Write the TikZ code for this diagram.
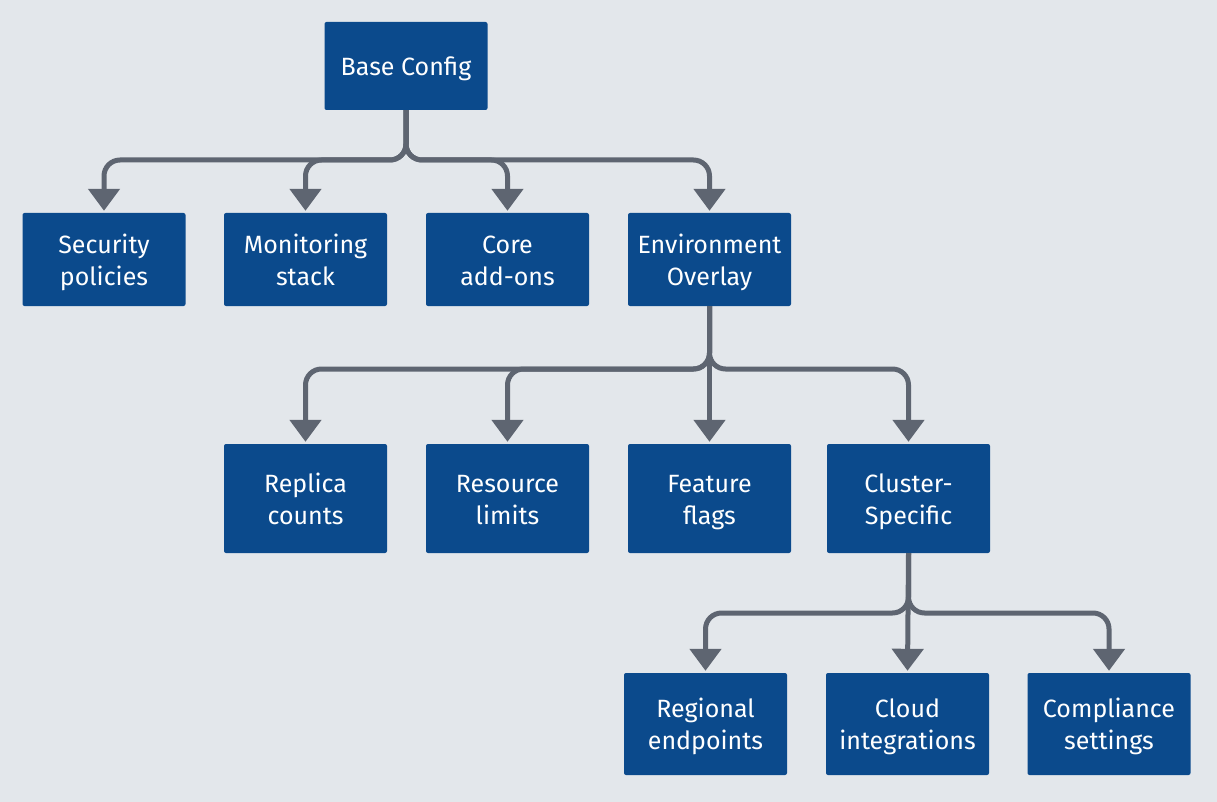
\documentclass[tikz,border=0pt]{standalone}
\usepackage{fontspec}
\setmainfont{Fira Sans}
\usetikzlibrary{arrows.meta}
\definecolor{bg}{HTML}{E3E7EB}
\definecolor{boxblue}{HTML}{0B4A8C}
\definecolor{conn}{HTML}{5E6571}
\newcommand\ta{\rule[-3pt]{0pt}{29pt}}
\newcommand\tb{\rule[-7pt]{0pt}{14pt}}
\newcommand\tc{\rule[-7pt]{0pt}{33pt}}
\begin{document}
\begin{tikzpicture}[x=1pt,y=-1pt,
  box/.style={draw=none,fill=boxblue,rounded corners=2pt,text=white,minimum width=163pt,align=center,font=\fontsize{25}{32}\selectfont,inner sep=0pt},
  link/.style={draw=conn,line width=5pt,rounded corners=16pt,-{Triangle[width=31pt,length=22pt]},shorten >=2pt}]
\fill[bg] (0,0) rectangle (1217,802);
\useasboundingbox (0,0) rectangle (1217,802);
% nodes
\node[box,minimum height=88pt] (base) at (406,66) {Base Config\tc};
\node[box,minimum height=93pt] (sec) at (104,259.5) {Security\ta\\policies\tb};
\node[box,minimum height=93pt] (mon) at (305.5,259.5) {Monitoring\ta\\stack\tb};
\node[box,minimum height=93pt] (core) at (507.5,259.5) {Core\ta\\add-ons\tb};
\node[box,minimum height=93pt] (env) at (709.5,259.5) {Environment\ta\\Overlay\tb};
\node[box,minimum height=109pt] (rep) at (305.5,498.5) {Replica\ta\\counts\tb};
\node[box,minimum height=109pt] (res) at (507.5,498.5) {Resource\ta\\limits\tb};
\node[box,minimum height=109pt] (feat) at (709.5,498.5) {Feature\ta\\flags\tb};
\node[box,minimum height=109pt] (clus) at (908.5,498.5) {Cluster-\ta\\Specific\tb};
\node[box,minimum height=102pt] (reg) at (705.5,724) {Regional\ta\\endpoints\tb};
\node[box,minimum height=102pt] (cloud) at (907.5,724) {Cloud\ta\\integrations\tb};
\node[box,minimum height=102pt] (comp) at (1109,724) {Compliance\ta\\settings\tb};
% connectors
\foreach \c in {sec,mon,core,env}
  \draw[link] (base.south) -- (base.south |- 0,160) -| (\c.north);
\foreach \c in {rep,res,clus}
  \draw[link] (env.south) -- (env.south |- 0,369) -| (\c.north);
\draw[link] (env.south) -- (feat.north);
\foreach \c in {reg,comp}
  \draw[link] (clus.south) -- (clus.south |- 0,613) -| (\c.north);
\draw[link] (clus.south) -- (cloud.north);
\end{tikzpicture}
\end{document}
